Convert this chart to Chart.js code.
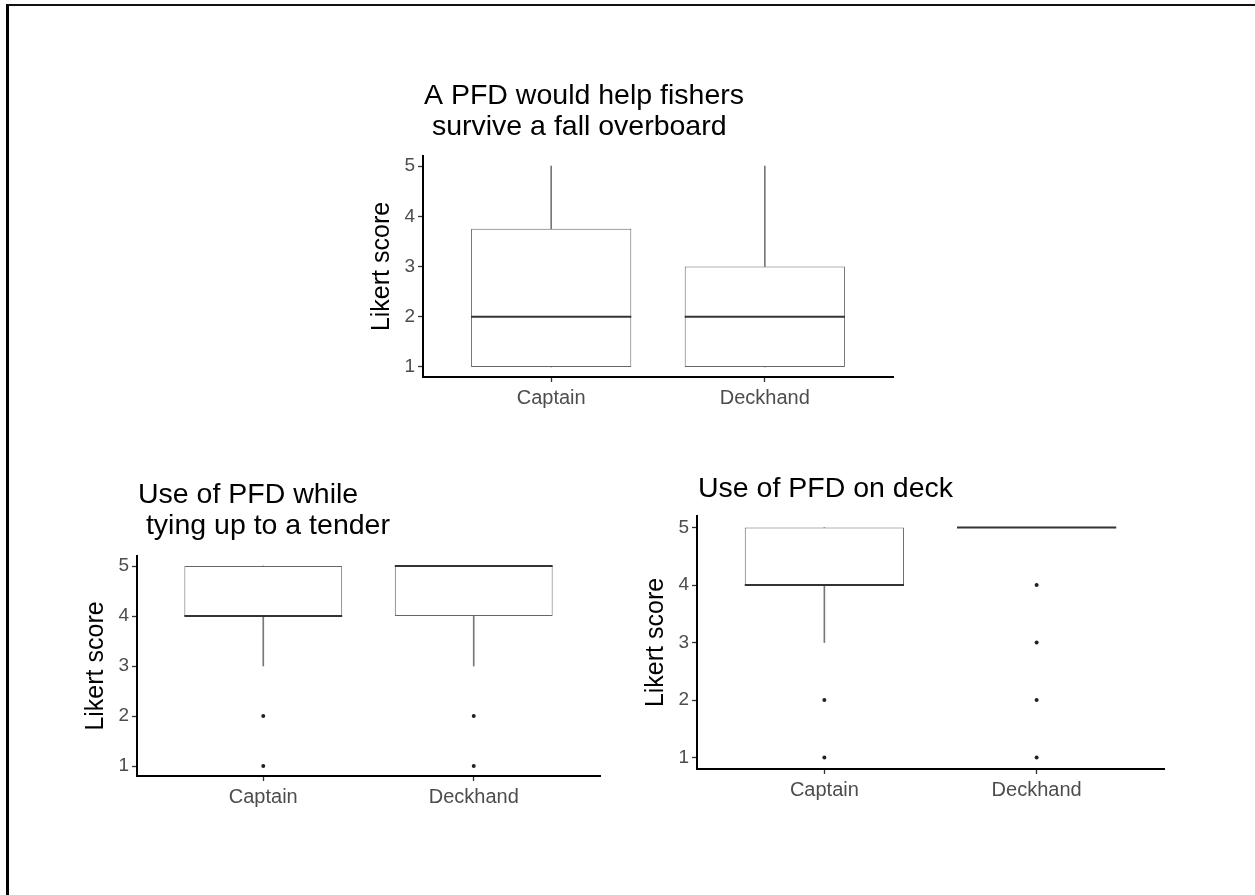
<!DOCTYPE html>
<html>
<head>
<meta charset="utf-8">
<title>PFD Likert scores</title>
<script src="https://cdn.jsdelivr.net/npm/chart.js@4.4.1/dist/chart.umd.min.js"></script>
<style>
  html, body { margin: 0; padding: 0; background: #fff; }
  body { width: 1255px; height: 895px; position: relative; overflow: hidden; }
  .frame { position: absolute; left: 6px; top: 4px; right: -10px; bottom: -10px;
           border-top: 2px solid #111; border-left: 3px solid #000; }
  canvas { position: absolute; }
  #surviveChart { left: 333px; top: 60px; }
  #tenderChart { left: 47px; top: 460px; }
  #deckChart { left: 607px; top: 420px; }
</style>
</head>
<body>
<div class="frame"></div>
<canvas id="surviveChart" width="570" height="362"></canvas>
<canvas id="tenderChart" width="563" height="361"></canvas>
<canvas id="deckChart" width="567" height="394"></canvas>
<script>
"use strict";

const categories = ['Captain', 'Deckhand'];
const yTicks = [1, 2, 3, 4, 5];

// "A PFD would help fishers survive a fall overboard"
const surviveLow = [1, 1];
const surviveQ1 = [1, 1];
const surviveMedian = [2, 2];
const surviveQ3 = [3.75, 3];
const surviveHigh = [5, 5];
const surviveOutliers = [[], []];

// "Use of PFD while tying up to a tender"
const tenderLow = [3, 3];
const tenderQ1 = [4, 4];
const tenderMedian = [4, 5];
const tenderQ3 = [5, 5];
const tenderHigh = [5, 5];
const tenderOutliers = [[1, 2], [1, 2]];

// "Use of PFD on deck"
const deckLow = [3, 5];
const deckQ1 = [4, 5];
const deckMedian = [4, 5];
const deckQ3 = [5, 5];
const deckHigh = [5, 5];
const deckOutliers = [[1, 2], [1, 2, 3, 4]];

const BOX_WIDTH = 0.75;
const FONT = '"Liberation Sans", Arial, sans-serif';
const Y_AXIS_W = 90;
const X_AXIS_H = 45;

Chart.defaults.font.family = FONT;

// Draws the (multi line) title left aligned over the plot panel
const panelTitle = {
	id: 'panelTitle',
	afterDraw: (chart, args, opts) => {
		const {ctx, chartArea} = chart;
		const lines = opts.text;
		ctx.save();
		ctx.font = `${opts.size}px ${FONT}`;
		ctx.fillStyle = '#000';
		ctx.textBaseline = 'alphabetic';
		lines.forEach((line, i) => {
			const y = chartArea.top - opts.gap - (lines.length - 1 - i) * opts.lineHeight;
			ctx.fillText(line, chartArea.left + opts.offset, y);
		});
		ctx.restore();
	}
};

// half the box width in pixels, used for the median stroke
const halfBox = (ctx) => {
	const x = ctx.chart.scales.x;
	return x.getPixelForValue(1 + BOX_WIDTH / 2) - x.getPixelForValue(1);
};

const makeBoxPlot = (canvasId, titleLines, titleGap, low, q1, median, q3, high, outliers) => {
	const boxes = categories.map((c, i) => ({x: i + 1, y: [q1[i], q3[i]]}));
	const lowerWhiskers = categories.map((c, i) => ({x: i + 1, y: [low[i], q1[i]]}));
	const upperWhiskers = categories.map((c, i) => ({x: i + 1, y: [q3[i], high[i]]}));
	const medians = categories.map((c, i) => ({x: i + 1, y: median[i]}));
	const points = outliers.flatMap((vals, i) => vals.map(v => ({x: i + 1, y: v})));

	return new Chart(document.getElementById(canvasId), {
		type: 'bar',
		data: {
			datasets: [
				{
					type: 'scatter',
					data: medians,
					pointStyle: 'line',
					pointRadius: halfBox,
					pointHoverRadius: halfBox,
					borderColor: '#333',
					pointBorderWidth: 2,
					order: 0
				},
				{
					type: 'scatter',
					data: points,
					pointStyle: 'circle',
					pointRadius: 2,
					backgroundColor: '#222',
					borderColor: '#222',
					pointBorderWidth: 0,
					order: 0
				},
				{
					data: boxes,
					backgroundColor: '#fff',
					borderColor: '#666',
					borderWidth: 1,
					borderSkipped: false,
					categoryPercentage: 1,
					barPercentage: BOX_WIDTH,
					grouped: false,
					order: 2
				},
				{
					data: lowerWhiskers,
					backgroundColor: '#777',
					borderWidth: 0,
					barThickness: 1,
					grouped: false,
					order: 3
				},
				{
					data: upperWhiskers,
					backgroundColor: '#777',
					borderWidth: 0,
					barThickness: 1,
					grouped: false,
					order: 3
				}
			]
		},
		options: {
			responsive: false,
			animation: false,
			events: [],
			layout: {
				padding: {top: 96, right: 10, left: 0, bottom: 0}
			},
			plugins: {
				legend: {display: false},
				tooltip: {enabled: false},
				panelTitle: {text: titleLines, size: 28.5, lineHeight: 31.5, gap: titleGap, offset: 1}
			},
			scales: {
				x: {
					type: 'linear',
					offset: false,
					min: 0.4,
					max: 2.6,
					afterBuildTicks: (scale) => {
						scale.ticks = categories.map((c, i) => ({value: i + 1}));
					},
					afterFit: (scale) => {
						scale.height = X_AXIS_H;
					},
					ticks: {
						autoSkip: false,
						maxRotation: 0,
						padding: 4,
						color: '#4d4d4d',
						font: {size: 20},
						callback: (value) => categories[value - 1]
					},
					grid: {
						display: true,
						offset: false,
						drawOnChartArea: false,
						drawTicks: true,
						tickLength: 5,
						tickColor: '#333',
						tickWidth: 1.3
					},
					border: {display: true, color: '#000', width: 2}
				},
				y: {
					type: 'linear',
					min: 0.8,
					max: 5.2,
					afterBuildTicks: (scale) => {
						scale.ticks = yTicks.map(v => ({value: v}));
					},
					afterFit: (scale) => {
						scale.width = Y_AXIS_W;
					},
					ticks: {
						padding: 3,
						color: '#4d4d4d',
						font: {size: 19}
					},
					grid: {
						display: true,
						drawOnChartArea: false,
						drawTicks: true,
						tickLength: 5,
						tickColor: '#333',
						tickWidth: 1.3
					},
					border: {display: true, color: '#000', width: 2},
					title: {
						display: true,
						text: 'Likert score',
						color: '#000',
						font: {size: 25},
						padding: {top: 34, bottom: 0}
					}
				}
			}
		},
		plugins: [panelTitle]
	});
};

makeBoxPlot('surviveChart', ['A PFD would help fishers', ' survive a fall overboard'], 21,
	surviveLow, surviveQ1, surviveMedian, surviveQ3, surviveHigh, surviveOutliers);
makeBoxPlot('tenderChart', ['Use of PFD while', ' tying up to a tender'], 22,
	tenderLow, tenderQ1, tenderMedian, tenderQ3, tenderHigh, tenderOutliers);
makeBoxPlot('deckChart', ['Use of PFD on deck'], 19,
	deckLow, deckQ1, deckMedian, deckQ3, deckHigh, deckOutliers);
</script>
</body>
</html>
